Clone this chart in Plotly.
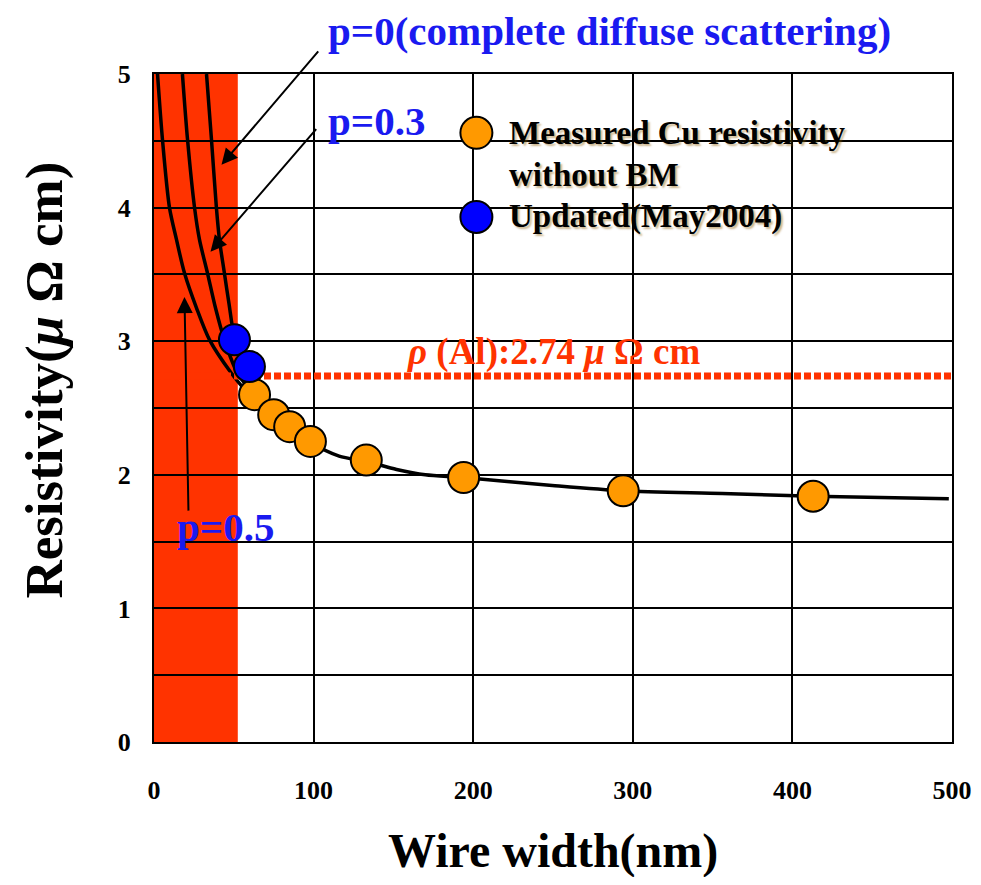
import plotly.graph_objects as go

# ---------------- data ----------------
meas_w = [63, 75, 85, 98, 133, 194, 294, 413]
meas_r = [2.60, 2.45, 2.36, 2.25, 2.11, 1.98, 1.88, 1.84]

upd_w = [50.4, 59.8]
upd_r = [3.01, 2.81]

# model curves
p05_w = [2.2, 5.3, 9.7, 14.1, 19.1, 26.6, 34.8, 48.5, 56.7, 63.0, 75.0]
p05_r = [5.0, 4.51, 4.00, 3.76, 3.51, 3.25, 3.01, 2.76, 2.64, 2.56, 2.44]
p03_w = [17.8, 21.0, 25.4, 28.5, 33.5, 38.5, 44.1, 52.3, 58.5, 64.0, 75.0]
p03_r = [5.0, 4.51, 4.00, 3.76, 3.51, 3.25, 3.01, 2.76, 2.66, 2.58, 2.45]
p0_w = [32.9, 36.0, 39.1, 41.0, 44.1, 47.0, 50.4, 55.0, 59.8, 65.0, 75.0]
p0_r = [5.0, 4.51, 4.00, 3.76, 3.51, 3.28, 3.03, 2.90, 2.80, 2.64, 2.46]
fit_w = [75, 88, 98.6, 116, 133, 152, 170, 194, 249.5, 294, 356, 413, 498]
fit_r = [2.45, 2.335, 2.24, 2.14, 2.10, 2.04, 2.00, 1.98, 1.92, 1.88, 1.86, 1.84, 1.82]

al_rho = 2.74
x_range = [0, 500]
y_range = [0, 5]
red_zone = [0, 52.5]

x_ticks = [0, 100, 200, 300, 400, 500]
y_ticks = [0, 1, 2, 3, 4, 5]

RED = "#FF3300"
ORANGE = "#FF9900"
BLUE = "#0000FF"
LBLUE = "#1A1AF0"
FONT = "Liberation Serif"

fig = go.Figure()

# curves
for w, r in [(p05_w, p05_r), (p03_w, p03_r), (p0_w, p0_r), (fit_w, fit_r)]:
    fig.add_trace(go.Scatter(x=w, y=r, mode="lines", line=dict(color="black", width=3.5, shape="spline", smoothing=0.8),
                             showlegend=False, hoverinfo="skip"))

# Al resistivity dotted line
fig.add_trace(go.Scatter(x=x_range, y=[al_rho, al_rho], mode="lines",
                         line=dict(color=RED, width=7, dash="7px,3px"), showlegend=False, hoverinfo="skip"))

# markers
fig.add_trace(go.Scatter(x=meas_w, y=meas_r, mode="markers",
                         marker=dict(size=31, color=ORANGE, line=dict(color="black", width=2)),
                         showlegend=False))
fig.add_trace(go.Scatter(x=upd_w, y=upd_r, mode="markers",
                         marker=dict(size=31, color=BLUE, line=dict(color="black", width=2)),
                         showlegend=False))

# red zone
fig.add_shape(type="rect", xref="x", yref="y", x0=red_zone[0], x1=red_zone[1], y0=y_range[0], y1=y_range[1],
              fillcolor=RED, line=dict(width=0), layer="below")

# legend symbols
for yy, col in [(0.912, ORANGE), (0.786, BLUE)]:
    fig.add_shape(type="circle", xref="paper", yref="paper", xsizemode="pixel", ysizemode="pixel",
                  xanchor=0.404, yanchor=yy, x0=-16, x1=16, y0=-16, y1=16,
                  fillcolor=col, line=dict(color="black", width=2), layer="above")

def ann(text, x, y, size, color, xanchor="left", yanchor="middle", angle=0, shadow="none"):
    fig.add_annotation(text=text, x=x, y=y, xref="paper", yref="paper", showarrow=False,
                       xanchor=xanchor, yanchor=yanchor, textangle=angle,
                       font=dict(family=FONT, size=size, color=color, shadow=shadow))

ann("<b>p=0(complete diffuse scattering)</b>", 0.216, 1.064, 41, LBLUE)
ann("<b>p=0.3</b>", 0.216, 0.930, 41, LBLUE)
ann("<b>p=0.5</b>", 0.0257, 0.322, 41, LBLUE)
ann("<b><i>ρ</i> (Al):2.74 <i>μ</i> Ω cm</b>", 0.314, 0.584, 37, RED)
sh = "2px 2px 2px rgba(140,90,0,0.45)"
ann("<b>Measured Cu resistivity</b>", 0.4427, 0.9117, 33, "black", shadow=sh)
ann("<b>without BM</b>", 0.4427, 0.849, 33, "black", shadow=sh)
ann("<b>Updated(May2004)</b>", 0.4427, 0.786, 33, "black", shadow=sh)
ann("<b>Wire width(nm)</b>", 0.5, -0.163, 48, "black", xanchor="center")
ann("<b>Resistivity(<i>μ</i> Ω cm)</b>", -0.137, 0.542, 53, "black", xanchor="center", angle=-90)

# arrows
for tx, ty, ax, ay in [(42.3, 4.32, 98, -115), (35.4, 3.67, 107, -124), (19.1, 3.33, 4, 215)]:
    fig.add_annotation(x=tx, y=ty, xref="x", yref="y", text="", showarrow=True, ax=ax, ay=ay,
                       arrowhead=2, arrowsize=1.6, arrowwidth=2, arrowcolor="black")

# the page body adds an 8px offset; sizes/margins compensate so the plot area lands where the reference has it
fig.update_layout(
    width=965, height=869,
    margin=dict(l=146, r=21, t=66, b=135, autoexpand=False),
    paper_bgcolor="white", plot_bgcolor="white",
    showlegend=False,
    xaxis=dict(range=x_range, tickvals=x_ticks, showgrid=True, gridcolor="black", gridwidth=2,
               zeroline=False, showline=True, mirror=True, linecolor="black", linewidth=2, ticks="",
               automargin=False,
               tickfont=dict(family=FONT, size=26, color="black", weight="bold"), ticklabelstandoff=24),
    yaxis=dict(range=y_range, tickvals=y_ticks, showgrid=True, gridcolor="black", gridwidth=2,
               minor=dict(dtick=0.5, showgrid=True, gridcolor="black", gridwidth=2, ticks=""),
               zeroline=False, showline=True, mirror=True, linecolor="black", linewidth=2, ticks="",
               automargin=False,
               tickfont=dict(family=FONT, size=26, color="black", weight="bold"), ticklabelstandoff=16),
)

fig.write_html("out.html")
